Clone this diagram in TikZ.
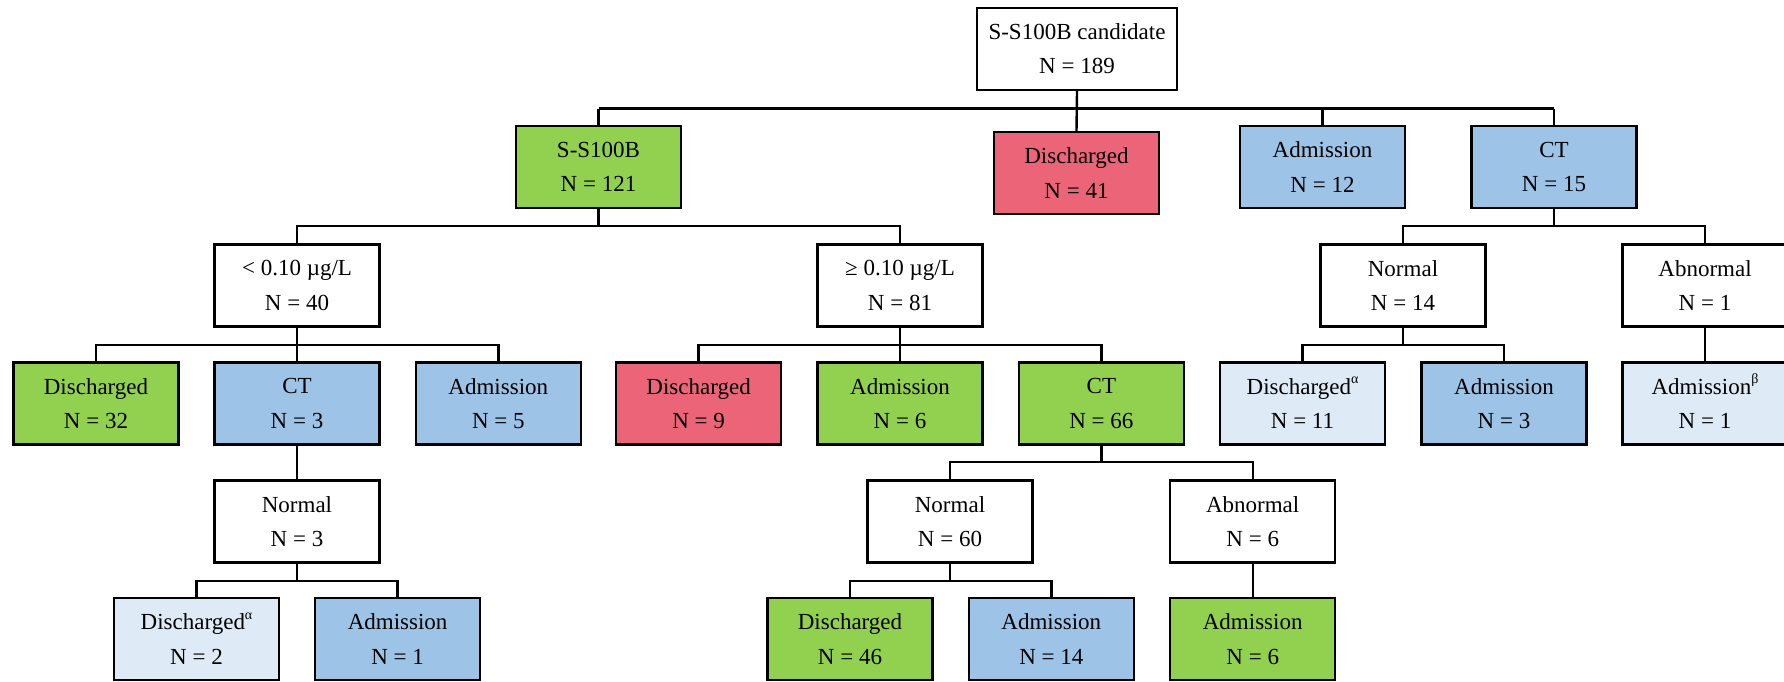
\documentclass[tikz,border=0pt]{standalone}
\usepackage{fontspec}
\setmainfont{Liberation Serif}
\usetikzlibrary{calc}
\definecolor{cgreen}{HTML}{92D050}
\definecolor{cred}{HTML}{EB6477}
\definecolor{cblue}{HTML}{9DC3E6}
\definecolor{clight}{HTML}{DEEBF7}
\newcommand{\supmark}[1]{\smash{\raisebox{0.45em}{\fontsize{14}{14}\selectfont #1}}}
\begin{document}
\begin{tikzpicture}[x=1pt,y=-1pt,
  box/.style={draw=black, line width=2.4pt, minimum width=165pt, minimum height=82pt,
    inner sep=0pt, align=center, font=\fontsize{23}{34.5}\selectfont},
  wbox/.style={box, fill=white},
  gbox/.style={box, fill=cgreen},
  rbox/.style={box, fill=cred},
  bbox/.style={box, fill=cblue},
  lbox/.style={box, fill=clight},
  conn/.style={draw=black, line width=2.4pt},
  topconn/.style={draw=black, line width=3.2pt}]
\path[use as bounding box] (0,0) rectangle (1784,681);
\clip (0,0) rectangle (1784,681);
\fill[white] (0,0) rectangle (1784,681);

% level 0
\node[wbox, minimum width=200pt] (root) at (1077,48.7) {S-S100B candidate\\N = 189};
% level 1
\node[gbox] (s100) at (598.5,167) {S-S100B\\N = 121};
\node[rbox] (dis1) at (1076.5,173) {Discharged\\N = 41};
\node[bbox] (adm1) at (1322.5,167) {Admission\\N = 12};
\node[bbox] (ct1) at (1554,167) {CT\\N = 15};
% level 2
\node[wbox] (low) at (297,285.5) {< 0.10 µg/L\\N = 40};
\node[wbox] (high) at (900,285.5) {≥ 0.10 µg/L\\N = 81};
\node[wbox] (nor1) at (1403,285.5) {Normal\\N = 14};
\node[wbox] (abn1) at (1705,285.5) {Abnormal\\N = 1};
% level 3
\node[gbox] (dis2) at (96,403.5) {Discharged\\N = 32};
\node[bbox] (ct2) at (297,403.5) {CT\\N = 3};
\node[bbox] (adm2) at (498.3,403.5) {Admission\\N = 5};
\node[rbox] (dis3) at (698.6,403.5) {Discharged\\N = 9};
\node[gbox] (adm3) at (900,403.5) {Admission\\N = 6};
\node[gbox] (ct3) at (1101.4,403.5) {CT\\N = 66};
\node[lbox] (dis4) at (1302.5,403.5) {Discharged\supmark{α}\\N = 11};
\node[bbox] (adm4) at (1504,403.5) {Admission\\N = 3};
\node[lbox] (adm5) at (1705,403.5) {Admission\supmark{β}\\N = 1};
% level 4
\node[wbox] (nor2) at (297,521.5) {Normal\\N = 3};
\node[wbox] (nor3) at (950,521.5) {Normal\\N = 60};
\node[wbox] (abn3) at (1252.7,521.5) {Abnormal\\N = 6};
% level 5
\node[lbox] (dis5) at (196.5,639) {Discharged\supmark{α}\\N = 2};
\node[bbox] (adm6) at (397.6,639) {Admission\\N = 1};
\node[gbox] (dis6) at (850,639) {Discharged\\N = 46};
\node[bbox] (adm7) at (1051.3,639) {Admission\\N = 14};
\node[gbox] (adm8) at (1252.7,639) {Admission\\N = 6};

% connectors
\coordinate (b0) at ($(root.south)+(0,17.6)$);
\draw[topconn] (s100.north |- b0) -- (ct1.north |- b0);
\draw[conn] (root.south) -- (dis1.north);
\draw[conn] (s100.north |- b0) -- (s100.north);
\draw[conn] (adm1.north |- b0) -- (adm1.north);
\draw[conn] (ct1.north |- b0) -- (ct1.north);

\coordinate (b1) at ($(s100.south)+(0,17)$);
\draw[conn] (s100.south) -- (b1);
\draw[conn] (b1) -| (low.north);
\draw[conn] (b1) -| (high.north);

\coordinate (b2) at ($(ct1.south)+(0,17)$);
\draw[conn] (ct1.south) -- (b2);
\draw[conn] (b2) -| (nor1.north);
\draw[conn] (b2) -| (abn1.north);

\coordinate (b3) at ($(low.south)+(0,17)$);
\draw[conn] (low.south) -- (ct2.north);
\draw[conn] (b3) -| (dis2.north);
\draw[conn] (b3) -| (adm2.north);

\coordinate (b4) at ($(high.south)+(0,17)$);
\draw[conn] (high.south) -- (adm3.north);
\draw[conn] (b4) -| (dis3.north);
\draw[conn] (b4) -| (ct3.north);

\coordinate (b5) at ($(nor1.south)+(0,17)$);
\draw[conn] (nor1.south) -- (b5);
\draw[conn] (b5) -| (dis4.north);
\draw[conn] (b5) -| (adm4.north);

\draw[conn] (abn1.south) -- (adm5.north);

\draw[conn] (ct2.south) -- (nor2.north);

\coordinate (b6) at ($(ct3.south)+(0,16)$);
\draw[conn] (ct3.south) -- (b6);
\draw[conn] (b6) -| (nor3.north);
\draw[conn] (b6) -| (abn3.north);

\coordinate (b7) at ($(nor2.south)+(0,17)$);
\draw[conn] (nor2.south) -- (b7);
\draw[conn] (b7) -| (dis5.north);
\draw[conn] (b7) -| (adm6.north);

\coordinate (b8) at ($(nor3.south)+(0,17)$);
\draw[conn] (nor3.south) -- (b8);
\draw[conn] (b8) -| (dis6.north);
\draw[conn] (b8) -| (adm7.north);

\draw[conn] (abn3.south) -- (adm8.north);
\end{tikzpicture}
\end{document}
